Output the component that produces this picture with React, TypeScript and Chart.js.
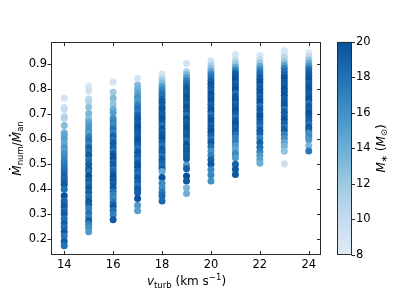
import React, { useEffect, useRef } from "react";
import { Chart, registerables } from "chart.js";

Chart.register(...registerables);

// v_turb columns (km/s)
const vturbValues = [14, 15, 16, 17, 18, 19, 20, 21, 22, 23, 24];

// Mdot_num / Mdot_an per column, with the stellar mass (Msun) of each point
const ratio14 = [0.763, 0.726, 0.719, 0.690, 0.683, 0.654, 0.624, 0.614, 0.599, 0.581, 0.565, 0.551, 0.540, 0.525, 0.510, 0.495, 0.481, 0.467, 0.451, 0.440, 0.428, 0.416, 0.398, 0.372, 0.353, 0.339, 0.327, 0.313, 0.298, 0.280, 0.262, 0.245, 0.227, 0.210, 0.189, 0.171];
const mass14 = [9, 9.5, 10, 10.5, 11, 13, 14, 14.5, 15, 14.5, 15.5, 15, 16, 16.5, 17, 17.5, 18, 18.5, 19, 18.5, 19, 19.5, 18, 20, 18.5, 19, 19.5, 18.5, 19.5, 18, 19, 18, 19.5, 17.5, 19, 18];

const ratio15 = [0.811, 0.793, 0.761, 0.752, 0.728, 0.702, 0.681, 0.667, 0.652, 0.634, 0.622, 0.608, 0.593, 0.577, 0.563, 0.549, 0.534, 0.516, 0.498, 0.481, 0.469, 0.451, 0.434, 0.419, 0.404, 0.386, 0.368, 0.351, 0.337, 0.321, 0.303, 0.286, 0.271, 0.257, 0.243, 0.227];
const mass15 = [8.5, 9.5, 10, 11, 12.5, 13.5, 13, 14.5, 15.5, 16, 15, 17, 18, 17, 19, 18, 19.5, 18, 19, 19.5, 18, 20, 19, 18, 19.5, 19, 18, 19.5, 19, 17, 18, 17, 19, 17, 16, 15.5];

const ratio16 = [0.828, 0.787, 0.763, 0.740, 0.719, 0.705, 0.683, 0.669, 0.655, 0.640, 0.624, 0.610, 0.596, 0.581, 0.565, 0.551, 0.537, 0.522, 0.507, 0.492, 0.478, 0.463, 0.448, 0.434, 0.420, 0.404, 0.389, 0.375, 0.361, 0.345, 0.330, 0.313, 0.295, 0.275];
const mass16 = [9, 12, 13, 12.5, 14, 15, 16, 17, 16.5, 18, 17, 19, 18, 19.5, 19, 18, 19.5, 20, 19, 19.5, 18, 19, 20, 19.5, 19, 19.5, 18, 17, 16.5, 18, 19.5, 18, 17, 19.5];

const ratio17 = [0.843, 0.816, 0.799, 0.781, 0.766, 0.752, 0.737, 0.722, 0.706, 0.692, 0.678, 0.663, 0.648, 0.634, 0.620, 0.604, 0.589, 0.575, 0.561, 0.546, 0.530, 0.516, 0.502, 0.487, 0.471, 0.457, 0.443, 0.428, 0.412, 0.398, 0.384, 0.361, 0.334, 0.312];
const mass17 = [9, 13, 14, 15, 16, 15.5, 17, 18, 17.5, 19, 19.5, 19, 20, 19.5, 19, 19.5, 20, 19, 18, 19.5, 19, 18, 19.5, 20, 19, 18, 19.5, 19, 18, 19.5, 19, 20, 15.5, 15];

const ratio18 = [0.860, 0.840, 0.825, 0.811, 0.799, 0.785, 0.773, 0.758, 0.746, 0.731, 0.719, 0.705, 0.693, 0.681, 0.667, 0.655, 0.640, 0.628, 0.615, 0.601, 0.587, 0.572, 0.557, 0.545, 0.530, 0.516, 0.503, 0.490, 0.479, 0.469, 0.445, 0.422, 0.404, 0.386, 0.372, 0.351];
const mass18 = [9, 11.5, 13, 15, 16.5, 17.5, 18, 19, 19.5, 19, 20, 19.5, 19, 20, 19.5, 18, 20, 19, 19.5, 20, 19, 18, 19.5, 19, 18, 19.5, 19, 18, 19.5, 14.5, 20, 16.5, 16, 17.5, 18.5, 18.5];

const ratio19 = [0.902, 0.870, 0.859, 0.847, 0.834, 0.822, 0.808, 0.796, 0.783, 0.769, 0.755, 0.740, 0.726, 0.710, 0.695, 0.681, 0.667, 0.652, 0.636, 0.622, 0.608, 0.593, 0.577, 0.563, 0.549, 0.534, 0.520, 0.495, 0.480, 0.451, 0.431, 0.404, 0.381];
const mass19 = [9, 11, 13, 15, 17, 18, 19, 19.5, 19, 20, 19.5, 19, 20, 19.5, 18, 20, 19, 19.5, 20, 19, 19.5, 18, 20, 19, 19.5, 19, 19.5, 15.5, 19, 20, 19.5, 13.5, 14];

const ratio20 = [0.913, 0.897, 0.884, 0.871, 0.859, 0.846, 0.833, 0.820, 0.806, 0.793, 0.779, 0.766, 0.752, 0.738, 0.724, 0.710, 0.697, 0.683, 0.669, 0.655, 0.641, 0.627, 0.613, 0.599, 0.585, 0.568, 0.551, 0.534, 0.516, 0.498, 0.476, 0.455, 0.431];
const mass20 = [9, 11, 12.5, 14.5, 17, 18, 19, 20, 19.5, 19, 20, 19.5, 20, 19, 19.5, 20, 18, 19.5, 20, 19, 19.5, 20, 19, 18, 19.5, 18, 16, 17, 19, 19.5, 16.5, 16.5, 16];

const ratio21 = [0.938, 0.918, 0.903, 0.888, 0.875, 0.862, 0.849, 0.836, 0.822, 0.809, 0.796, 0.782, 0.769, 0.755, 0.741, 0.728, 0.714, 0.700, 0.686, 0.672, 0.658, 0.645, 0.631, 0.617, 0.603, 0.588, 0.572, 0.556, 0.540, 0.524, 0.498, 0.478, 0.457];
const mass21 = [8.5, 10, 12, 14.5, 17, 19, 19.5, 20, 19, 19.5, 20, 18, 19.5, 20, 19, 19.5, 20, 19, 18, 19.5, 20, 19, 19.5, 18, 17, 17, 15.5, 14.5, 16.5, 15.5, 19, 19.5, 19.5];

const ratio22 = [0.934, 0.918, 0.905, 0.891, 0.878, 0.865, 0.852, 0.839, 0.826, 0.812, 0.799, 0.785, 0.772, 0.758, 0.745, 0.731, 0.717, 0.703, 0.690, 0.676, 0.662, 0.648, 0.634, 0.620, 0.603, 0.585, 0.566, 0.548, 0.532, 0.516, 0.502];
const mass22 = [8.5, 10, 12, 14.5, 16.5, 18, 19, 19.5, 20, 19, 19.5, 20, 19, 19.5, 20, 18, 19.5, 19, 20, 19.5, 19, 18, 19.5, 19, 17, 19, 18, 17, 15.5, 15, 14];

const ratio23 = [0.954, 0.940, 0.926, 0.911, 0.896, 0.883, 0.870, 0.856, 0.843, 0.829, 0.816, 0.802, 0.789, 0.775, 0.761, 0.748, 0.734, 0.720, 0.706, 0.692, 0.678, 0.663, 0.648, 0.634, 0.617, 0.601, 0.585, 0.570, 0.550, 0.500];
const mass23 = [8.5, 9, 10.5, 12, 14.5, 17, 18, 19, 20, 19.5, 19, 20, 19.5, 20, 19, 19.5, 20, 18, 19.5, 19, 20, 19, 18, 19, 17, 16, 14.5, 13.5, 12.5, 9.5];

const ratio24 = [0.946, 0.931, 0.917, 0.904, 0.891, 0.878, 0.864, 0.851, 0.838, 0.824, 0.811, 0.797, 0.784, 0.770, 0.757, 0.743, 0.729, 0.716, 0.702, 0.688, 0.674, 0.660, 0.646, 0.634, 0.622, 0.608, 0.596, 0.572, 0.551];
const mass24 = [8.5, 10, 12, 14, 16, 18, 19, 19.5, 20, 19, 19.5, 20, 19, 19.5, 20, 18, 19.5, 19, 20, 19.5, 19, 18, 19.5, 19, 16, 16.5, 15.5, 13.5, 17.5];

const ratioColumns = [ratio14, ratio15, ratio16, ratio17, ratio18, ratio19, ratio20, ratio21, ratio22, ratio23, ratio24];
const massColumns = [mass14, mass15, mass16, mass17, mass18, mass19, mass20, mass21, mass22, mass23, mass24];

// ticks
const xTicks = [14, 16, 18, 20, 22, 24];
const yTicks = [0.2, 0.3, 0.4, 0.5, 0.6, 0.7, 0.8, 0.9];
const massTicks = [8, 10, 12, 14, 16, 18, 20];
const massMin = 8;
const massMax = 20;

// colormap stops (Blues, truncated)
const cmapStops = ["#deebf7", "#c6dbef", "#9ecae1", "#6baed6", "#4292c6", "#2171b5", "#08519c"];

function hexToRgb(h: string) {
  return [parseInt(h.slice(1, 3), 16), parseInt(h.slice(3, 5), 16), parseInt(h.slice(5, 7), 16)];
}

function massColor(m: number) {
  let t = (m - massMin) / (massMax - massMin);
  t = Math.max(0, Math.min(1, t));
  const f = t * (cmapStops.length - 1);
  const i = Math.min(cmapStops.length - 2, Math.floor(f));
  const u = f - i;
  const a = hexToRgb(cmapStops[i]);
  const b = hexToRgb(cmapStops[i + 1]);
  const c = a.map((v, k) => Math.round(v + (b[k] - v) * u));
  return `rgb(${c[0]},${c[1]},${c[2]})`;
}

const FONT = "DejaVu Sans";
const SPINE = "#2b2b2b";

type Part = { t: string; size: number; italic?: boolean; dy?: number; dot?: boolean };

function drawParts(ctx: CanvasRenderingContext2D, parts: Part[], cx: number, baseline: number) {
  const widths = parts.map((p) => {
    ctx.font = `${p.italic ? "italic " : ""}${p.size}px "${FONT}"`;
    return ctx.measureText(p.t).width;
  });
  const total = widths.reduce((s, w) => s + w, 0);
  let x = cx - total / 2;
  ctx.textAlign = "left";
  ctx.textBaseline = "alphabetic";
  parts.forEach((p, i) => {
    ctx.font = `${p.italic ? "italic " : ""}${p.size}px "${FONT}"`;
    ctx.fillText(p.t, x, baseline + (p.dy || 0));
    if (p.dot) {
      ctx.beginPath();
      ctx.arc(x + widths[i] / 2 + 1.5, baseline - p.size * 0.729 - 2.2, 0.95, 0, Math.PI * 2);
      ctx.fill();
    }
    x += widths[i];
  });
}

const decorPlugin = {
  id: "decor",
  afterDraw(chart: any) {
    const ctx: CanvasRenderingContext2D = chart.ctx;
    const { left, right, top, bottom } = chart.chartArea;
    const xs = chart.scales.x;
    const ys = chart.scales.y;
    const cb = chart.scales.cb;
    const L = Math.round(left) - 0.5;
    const R = Math.round(right) - 0.5;
    const T = Math.round(top) + 0.5;
    const B = Math.round(bottom) - 0.5;
    ctx.save();
    ctx.strokeStyle = SPINE;
    ctx.lineWidth = 1;
    ctx.strokeRect(L, T, R - L, B - T);
    const tl = 3.5;
    ctx.beginPath();
    xTicks.forEach((v) => {
      const px = Math.round(xs.getPixelForValue(v)) + 0.5;
      ctx.moveTo(px, B);
      ctx.lineTo(px, B - tl);
      ctx.moveTo(px, T);
      ctx.lineTo(px, T + tl);
    });
    yTicks.forEach((v) => {
      const py = Math.round(ys.getPixelForValue(v)) + 0.5;
      ctx.moveTo(L, py);
      ctx.lineTo(L - tl - 0.5, py);
      ctx.moveTo(R, py);
      ctx.lineTo(R - tl, py);
    });
    ctx.stroke();

    // colorbar
    const bx0 = Math.round(right) + 17;
    const bx1 = Math.round(right) + 30;
    const by0 = cb.getPixelForValue(massMax);
    const by1 = cb.getPixelForValue(massMin);
    const grad = ctx.createLinearGradient(0, by1, 0, by0);
    cmapStops.forEach((c, i) => grad.addColorStop(i / (cmapStops.length - 1), c));
    ctx.fillStyle = grad;
    ctx.fillRect(bx0, by0, bx1 - bx0, by1 - by0);
    ctx.strokeStyle = SPINE;
    ctx.strokeRect(bx0 - 0.5, Math.round(by0) + 0.5, bx1 - bx0 + 1, Math.round(by1) - Math.round(by0) - 1);
    ctx.beginPath();
    massTicks.forEach((v) => {
      const py = Math.round(cb.getPixelForValue(v)) + 0.5;
      ctx.moveTo(bx1 + 0.5, py);
      ctx.lineTo(bx1 + 0.5 + tl, py);
    });
    ctx.stroke();

    // titles
    ctx.fillStyle = "#000";
    const cy = (top + bottom) / 2;
    drawParts(
      ctx,
      [
        { t: "v", size: 12, italic: true },
        { t: "turb", size: 8.5, dy: 2.6 },
        { t: " (km s", size: 12 },
        { t: "\u22121", size: 8.5, dy: -4.6 },
        { t: ")", size: 12 },
      ],
      (left + right) / 2,
      285
    );
    ctx.save();
    ctx.translate(20.7, cy);
    ctx.rotate(-Math.PI / 2);
    drawParts(
      ctx,
      [
        { t: "M", size: 12, italic: true, dot: true },
        { t: "num", size: 8.5, dy: 2.6 },
        { t: "/", size: 12 },
        { t: "M", size: 12, italic: true, dot: true },
        { t: "an", size: 8.5, dy: 2.6 },
      ],
      0,
      0
    );
    ctx.restore();
    ctx.save();
    ctx.translate(384.5, cy);
    ctx.rotate(-Math.PI / 2);
    drawParts(
      ctx,
      [
        { t: "M", size: 12, italic: true },
        { t: "\u2217", size: 8.5, dy: 2.6 },
        { t: " (", size: 12 },
        { t: "M", size: 12, italic: true },
        { t: "\u2299", size: 8.5, dy: 2.6 },
        { t: ")", size: 12 },
      ],
      0,
      0
    );
    ctx.restore();
    ctx.restore();
  },
};

export default function App() {
  const canvasRef = useRef<HTMLCanvasElement | null>(null);

  useEffect(() => {
    const canvas = canvasRef.current;
    if (!canvas) return;
    const points: { x: number; y: number; m: number }[] = [];
    vturbValues.forEach((v, i) => {
      ratioColumns[i].forEach((r, j) => {
        points.push({ x: v, y: r, m: massColumns[i][j] });
      });
    });
    const tickFont = { family: FONT, size: 11.5 };
    const chart = new Chart(canvas, {
      type: "scatter",
      data: {
        datasets: [
          {
            data: points,
            backgroundColor: (c: any) => massColor(c.raw ? c.raw.m : 14),
            borderWidth: 0,
            pointRadius: 3.5,
            pointHoverRadius: 3.5,
          } as any,
        ],
      },
      options: {
        animation: false,
        responsive: false,
        devicePixelRatio: 1,
        events: [],
        layout: { padding: { top: 13, left: 0, right: 0, bottom: 0 } },
        plugins: { legend: { display: false }, tooltip: { enabled: false } },
        scales: {
          x: {
            type: "linear",
            position: "bottom",
            min: 13.5,
            max: 24.5,
            grid: { display: false, drawTicks: false },
            border: { display: false },
            ticks: { font: tickFont, color: "#000", padding: 3, callback: (v: any) => String(v) },
            afterBuildTicks: (s: any) => {
              s.ticks = xTicks.map((v) => ({ value: v }));
            },
            afterFit: (s: any) => {
              s.height = 44;
            },
          },
          y: {
            type: "linear",
            position: "left",
            min: 0.134,
            max: 0.989,
            grid: { display: false, drawTicks: false },
            border: { display: false },
            ticks: { font: tickFont, color: "#000", padding: 5, callback: (v: any) => Number(v).toFixed(1) },
            afterBuildTicks: (s: any) => {
              s.ticks = yTicks.map((v) => ({ value: v }));
            },
            afterFit: (s: any) => {
              s.width = 52;
            },
          },
          cb: {
            type: "linear",
            position: "right",
            min: massMin,
            max: massMax,
            grid: { display: false, drawTicks: false },
            border: { display: false },
            ticks: { font: tickFont, color: "#000", padding: 35, callback: (v: any) => String(v) },
            afterBuildTicks: (s: any) => {
              s.ticks = massTicks.map((v) => ({ value: v }));
            },
            afterFit: (s: any) => {
              s.width = 78;
            },
          },
        },
      } as any,
      plugins: [decorPlugin],
    });
    return () => chart.destroy();
  }, []);

  return (
    <div style={{ position: "fixed", left: 0, top: 0, width: 399, height: 299, background: "#fff" }}>
      <canvas ref={canvasRef} width={399} height={299} style={{ display: "block", width: 399, height: 299 }} />
    </div>
  );
}
